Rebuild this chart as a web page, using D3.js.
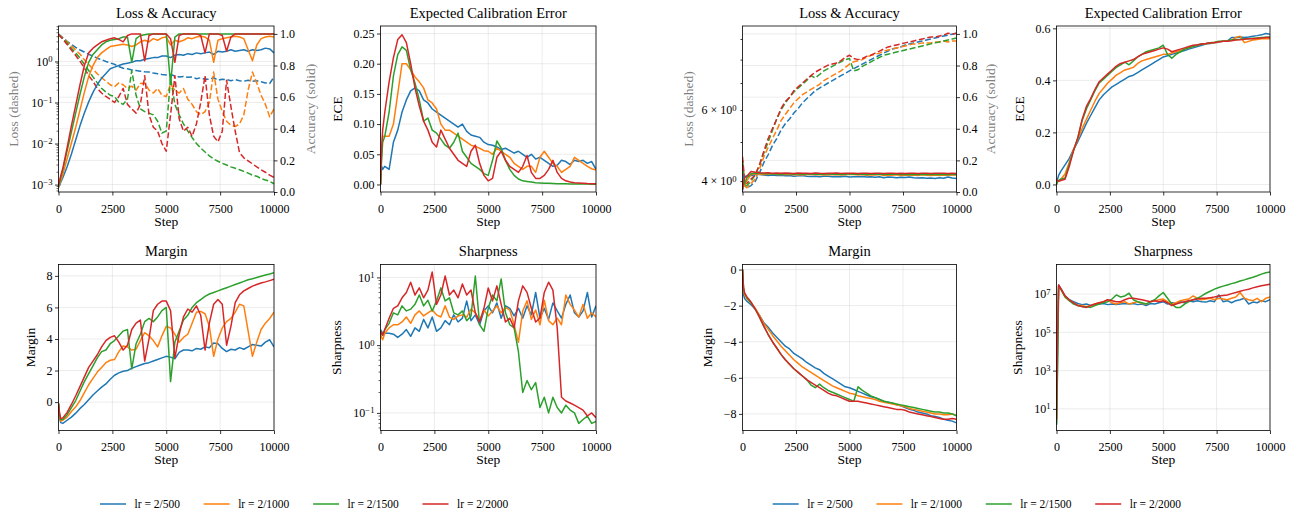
<!DOCTYPE html>
<html>
<head>
<meta charset="utf-8">
<script src="https://cdn.jsdelivr.net/npm/d3@7"></script>
<style>
  body { margin: 0; background: #fff; }
  svg text { font-family: "Liberation Serif", "Times New Roman", serif; }
</style>
</head>
<body>
<svg id="chart"></svg>
<script>
(() => {

    const WIDTH = 1294;
    const HEIGHT = 514;
    const FONT = '"Liberation Serif", "Times New Roman", serif';
    const TICK_FS = 12;
    const LABEL_FS = 13.5;
    const TITLE_FS = 14.5;
    const LEGEND_FS = 11.5;

    const COLORS = ["#1f77b4", "#ff7f0e", "#2ca02c", "#d62728"];
    const LABELS = ["lr = 2/500", "lr = 2/1000", "lr = 2/1500", "lr = 2/2000"];
    const X_TICKS = [0, 2500, 5000, 7500, 10000];

    // training steps at which every run was logged
    const STEPS = [0, 50, 100].concat(d3.range(200, 10001, 200));

    // ---- left group: loss (dashed) / accuracy (solid) ----
    const LOSS_L = [
        [4.6, 4.4, 4.2, 3.8, 3.1, 2.6, 2.2, 1.9, 1.7, 1.5, 1.35, 1.2, 1.1, 1.0, 0.92, 0.85, 0.75, 0.68,
         0.66, 0.62, 0.60, 0.58, 0.56, 0.55, 0.52, 0.50, 0.48, 0.47, 0.48, 0.44, 0.42, 0.43, 0.41,
         0.42, 0.38, 0.40, 0.37, 0.37, 0.40, 0.35, 0.37, 0.36, 0.34, 0.36, 0.34, 0.33, 0.35, 0.33,
         0.34, 0.32, 0.30, 0.29, 0.42],
        [4.6, 4.4, 4.1, 3.7, 3.0, 2.4, 1.9, 1.5, 1.1, 0.85, 0.65, 0.5, 0.4, 0.33, 0.27, 0.24, 0.3, 0.27,
         0.22, 0.25, 0.2, 0.29, 0.3, 0.2, 0.17, 0.22, 0.15, 0.14, 0.28, 0.2, 0.17, 0.22, 0.12,
         0.09, 0.06, 0.05, 0.06, 0.1, 0.55, 0.12, 0.06, 0.035, 0.028, 0.026, 0.03, 0.05, 0.2, 0.55,
         0.3, 0.15, 0.09, 0.045, 0.07],
        [4.6, 4.3, 4.0, 3.6, 2.8, 2.1, 1.6, 1.2, 0.85, 0.6, 0.42, 0.3, 0.22, 0.18, 0.15, 0.14, 0.1, 0.09,
         0.12, 0.6, 0.15, 0.07, 0.06, 0.055, 0.05, 0.035, 0.018, 0.02, 0.4, 0.09, 0.05, 0.03, 0.02,
         0.014, 0.01, 0.0078, 0.0062, 0.005, 0.0042, 0.0037, 0.0033, 0.003, 0.0027,
         0.0025, 0.0023, 0.0021, 0.0019, 0.0017, 0.0016, 0.0014, 0.0013, 0.0012, 0.00105],
        [4.6, 4.3, 4.0, 3.5, 2.6, 1.9, 1.4, 1.0, 0.7, 0.45, 0.33, 0.22, 0.17, 0.14, 0.12, 0.1, 0.14, 0.22,
         0.09, 0.07, 0.055, 0.09, 0.45, 0.05, 0.025, 0.02, 0.01, 0.0065, 0.05, 0.45, 0.04, 0.02, 0.025,
         0.015, 0.03, 0.1, 0.45, 0.05, 0.015, 0.011, 0.02, 0.35, 0.08, 0.02, 0.006, 0.0045, 0.0038, 0.0032,
         0.0027, 0.0023, 0.002, 0.0017, 0.0015]
    ];

    const ACC_L = [
        [0.03, 0.04, 0.06, 0.09, 0.16, 0.24, 0.33, 0.42, 0.50, 0.57, 0.63, 0.68, 0.72, 0.75, 0.78, 0.79, 0.80, 0.81,
         0.815, 0.82, 0.83, 0.83, 0.84, 0.845, 0.85, 0.85, 0.86, 0.86, 0.85, 0.865, 0.87, 0.865, 0.875,
         0.87, 0.88, 0.875, 0.88, 0.885, 0.87, 0.89, 0.885, 0.89, 0.90, 0.89, 0.895, 0.90, 0.89, 0.90,
         0.895, 0.90, 0.91, 0.905, 0.88],
        [0.03, 0.05, 0.07, 0.11, 0.21, 0.31, 0.41, 0.52, 0.63, 0.73, 0.80, 0.85, 0.88, 0.90, 0.92, 0.925, 0.93, 0.935,
         0.93, 0.92, 0.93, 0.95, 0.96, 0.95, 0.97, 0.96, 0.975, 0.98, 0.93, 0.96, 0.95, 0.96, 0.975,
         0.97, 0.98, 0.985, 0.98, 0.96, 0.82, 0.96, 0.97, 0.975, 0.98, 0.985, 0.98, 0.97, 0.90, 0.83,
         0.93, 0.97, 0.98, 0.985, 0.98],
        [0.04, 0.06, 0.09, 0.14, 0.26, 0.38, 0.50, 0.62, 0.73, 0.82, 0.87, 0.90, 0.93, 0.95, 0.96, 0.965, 0.97, 0.98,
         0.98, 0.82, 0.97, 0.99, 0.995, 1.0, 1.0, 1.0, 1.0, 1.0, 0.68, 0.98, 1.0, 1.0, 1.0,
         1.0, 1.0, 1.0, 1.0, 1.0, 1.0, 1.0, 1.0, 1.0, 1.0, 1.0, 1.0, 1.0, 1.0, 1.0,
         1.0, 1.0, 1.0, 1.0, 1.0],
        [0.04, 0.07, 0.10, 0.15, 0.28, 0.42, 0.55, 0.68, 0.80, 0.88, 0.91, 0.93, 0.95, 0.96, 0.97, 0.975, 0.965, 0.95,
         0.99, 1.0, 1.0, 1.0, 0.83, 0.99, 1.0, 1.0, 1.0, 1.0, 0.97, 0.82, 0.99, 1.0, 1.0,
         1.0, 1.0, 0.99, 0.88, 1.0, 1.0, 1.0, 0.99, 0.89, 0.98, 1.0, 1.0, 1.0, 1.0, 1.0,
         1.0, 1.0, 1.0, 1.0, 1.0]
    ];

    const ECE_L = [
        [0.0, 0.03, 0.025, 0.03, 0.025, 0.07, 0.09, 0.12, 0.14, 0.155, 0.16, 0.155, 0.14, 0.135, 0.125, 0.12, 0.115, 0.11,
         0.105, 0.10, 0.095, 0.10, 0.088, 0.082, 0.08, 0.078, 0.07, 0.066, 0.065, 0.062, 0.058, 0.06, 0.056,
         0.052, 0.055, 0.05, 0.045, 0.05, 0.042, 0.045, 0.04, 0.035, 0.03, 0.032, 0.04, 0.038, 0.033, 0.04,
         0.038, 0.04, 0.035, 0.038, 0.025],
        [0.0, 0.05, 0.08, 0.08, 0.08, 0.1, 0.15, 0.2, 0.2, 0.19, 0.178, 0.17, 0.16, 0.14, 0.135, 0.125, 0.1, 0.09,
         0.09, 0.085, 0.08, 0.075, 0.07, 0.065, 0.063, 0.06, 0.056, 0.055, 0.05, 0.06, 0.055, 0.05, 0.045,
         0.035, 0.03, 0.025, 0.03, 0.03, 0.02, 0.045, 0.055, 0.045, 0.035, 0.03, 0.02, 0.025, 0.03, 0.045,
         0.04, 0.035, 0.03, 0.026, 0.024],
        [0.0, 0.04, 0.07, 0.08, 0.12, 0.18, 0.215, 0.228, 0.222, 0.19, 0.168, 0.14, 0.105, 0.11, 0.09, 0.085, 0.075, 0.065,
         0.06, 0.07, 0.085, 0.055, 0.045, 0.035, 0.03, 0.025, 0.018, 0.015, 0.04, 0.072, 0.06, 0.04, 0.025,
         0.015, 0.009, 0.006, 0.005, 0.004, 0.003, 0.0025, 0.002, 0.0018, 0.0015, 0.0013, 0.0012, 0.001, 0.0009, 0.0008,
         0.0007, 0.0006, 0.0006, 0.0005, 0.0005],
        [0.0, 0.06, 0.09, 0.12, 0.17, 0.21, 0.24, 0.248, 0.235, 0.2, 0.16, 0.13, 0.105, 0.09, 0.07, 0.062, 0.09, 0.075,
         0.06, 0.05, 0.04, 0.035, 0.03, 0.055, 0.065, 0.035, 0.015, 0.006, 0.01, 0.045, 0.055, 0.04, 0.03,
         0.025, 0.02, 0.03, 0.048, 0.02, 0.01, 0.01, 0.015, 0.025, 0.04, 0.02, 0.01, 0.006, 0.004, 0.003,
         0.0025, 0.002, 0.0015, 0.0012, 0.001]
    ];

    const MARGIN_L = [
        [-0.1, -1.0, -1.3, -1.35, -1.15, -0.95, -0.7, -0.4, -0.15, 0.15, 0.45, 0.7, 0.95, 1.15, 1.45, 1.7, 1.85, 1.95,
         2.0, 2.15, 2.25, 2.35, 2.45, 2.5, 2.6, 2.7, 2.8, 2.9, 2.85, 2.75, 3.15, 3.3, 3.3,
         3.25, 3.4, 3.35, 3.5, 3.45, 3.75, 3.7, 3.4, 3.2, 3.35, 3.3, 3.45, 3.35, 3.5, 3.65,
         3.6, 3.55, 3.8, 3.95, 3.5],
        [-0.1, -0.9, -1.2, -1.15, -0.95, -0.6, -0.3, 0.1, 0.6, 1.1, 1.5, 1.9, 2.2, 2.5, 2.65, 2.7, 3.2, 3.55,
         3.5, 3.3, 3.35, 3.9, 4.4, 4.2, 3.9, 3.5, 4.2, 4.8, 4.7, 4.3, 3.8, 4.1, 4.3,
         5.0, 5.7, 5.75, 5.6, 4.8, 2.9, 4.0, 4.7, 5.1, 5.3, 5.7, 6.2, 6.1, 4.5, 2.9,
         3.8, 4.6, 5.0, 5.3, 5.7],
        [-0.1, -0.8, -1.1, -1.1, -0.8, -0.35, 0.1, 0.7, 1.3, 1.8, 2.3, 2.8, 3.2, 3.3, 3.7, 3.9, 4.2, 4.5,
         4.6, 2.1, 3.7, 4.3, 5.1, 5.3, 5.1, 5.4, 5.8, 6.0, 1.3, 3.8, 4.5, 5.2, 5.5,
         6.0, 6.3, 6.5, 6.7, 6.85, 6.95, 7.05, 7.15, 7.25, 7.35, 7.45, 7.55, 7.65, 7.75, 7.82,
         7.9, 7.98, 8.05, 8.12, 8.2],
        [-0.1, -0.7, -1.05, -1.0, -0.65, -0.15, 0.4, 1.0, 1.6, 2.2, 2.6, 3.0, 3.5, 3.9, 4.1, 4.2, 3.8, 3.3,
         3.6, 4.6, 5.0, 5.2, 2.6, 4.0, 5.8, 6.2, 6.4, 6.4, 5.8, 2.8, 4.3, 5.4, 5.9,
         5.7, 6.1, 5.5, 3.3, 5.0, 6.2, 6.5, 6.2, 3.6, 4.8, 6.3, 6.8, 7.05, 7.2, 7.35,
         7.45, 7.55, 7.62, 7.7, 7.78]
    ];

    const SHARP_L = [
        [1.7, 1.6, 1.5, 1.5, 1.5, 1.45, 1.3, 1.45, 1.7, 1.35, 1.8, 1.6, 2.4, 1.8, 2.6, 1.6, 1.8, 2.3,
         2.0, 2.8, 2.2, 2.5, 4.5, 2.3, 2.8, 2.0, 3.2, 3.8, 3.0, 4.2, 2.5, 3.8, 3.5,
         2.7, 3.5, 2.5, 3.8, 2.8, 6.0, 2.5, 3.5, 2.4, 4.2, 3.2, 2.5, 4.0, 5.5, 3.0,
         2.6, 3.2, 6.0, 2.6, 3.8],
        [1.5, 1.3, 1.2, 1.5, 1.8, 2.0, 2.0, 2.2, 2.6, 2.1, 2.8, 3.2, 2.7, 3.0, 3.3, 2.8, 2.6, 3.8,
         2.6, 2.4, 2.7, 2.8, 2.6, 3.4, 3.0, 2.3, 3.3, 2.7, 3.2, 3.8, 3.0, 3.6, 3.3,
         2.0, 1.1, 3.2, 4.5, 2.4, 3.3, 2.0, 4.6, 2.3, 2.0, 2.5, 2.0, 5.5, 4.0, 3.3,
         2.6, 4.0, 2.5, 3.0, 2.6],
        [1.6, 1.5, 1.4, 1.7, 2.1, 3.0, 2.8, 3.8, 3.2, 3.4, 4.0, 5.5, 3.8, 4.6, 3.2, 4.5, 7.0, 4.5,
         5.0, 3.0, 2.8, 3.2, 2.3, 2.7, 10.5, 2.0, 1.6, 3.5, 5.5, 4.5, 9.5, 3.0, 2.0,
         1.8, 0.8, 0.2, 0.3, 0.22, 0.28, 0.12, 0.17, 0.1, 0.17, 0.12, 0.1, 0.13, 0.11, 0.1,
         0.07, 0.08, 0.09, 0.07, 0.075],
        [1.6, 1.5, 1.4, 1.7, 2.5, 3.5, 3.8, 5.0, 6.0, 8.5, 5.5, 7.0, 5.0, 6.5, 12.0, 4.0, 5.5, 10.5,
         5.5, 6.5, 5.0, 8.0, 5.5, 6.5, 3.0, 2.2, 3.5, 7.0, 4.5, 7.5, 4.0, 2.2, 2.5,
         1.8, 4.5, 7.5, 6.0, 3.5, 2.2, 2.5, 6.0, 8.5, 6.5, 1.8, 0.17, 0.15, 0.14, 0.13,
         0.12, 0.11, 0.09, 0.1, 0.085]
    ];

    // ---- right group ----
    const LOSS_R = [
        [4.4, 4.1, 3.9, 3.85, 3.9, 4.0, 4.2, 4.45, 4.65, 4.9, 5.1, 5.35, 5.55, 5.7, 5.9, 6.05, 6.25, 6.4,
         6.55, 6.7, 6.8, 6.9, 7.0, 7.1, 7.2, 7.3, 7.4, 7.5, 7.6, 7.7, 7.8, 7.9, 8.0,
         8.1, 8.2, 8.3, 8.4, 8.5, 8.55, 8.6, 8.7, 8.75, 8.8, 8.85, 8.9, 8.95, 9.0, 9.05,
         9.1, 9.15, 9.2, 9.25, 9.3],
        [4.5, 4.2, 3.9, 3.85, 3.95, 4.05, 4.3, 4.6, 4.85, 5.1, 5.35, 5.65, 5.85, 6.05, 6.25, 6.4, 6.55, 6.65,
         6.75, 6.85, 6.95, 7.1, 7.2, 7.3, 7.4, 7.5, 7.65, 7.8, 7.9, 7.95, 8.0, 8.1, 8.2,
         8.25, 8.3, 8.4, 8.45, 8.5, 8.55, 8.6, 8.65, 8.7, 8.75, 8.75, 8.8, 8.8, 8.8, 8.85,
         8.85, 8.9, 8.85, 8.9, 8.9],
        [4.5, 4.2, 3.9, 3.9, 4.0, 4.15, 4.4, 4.7, 5.0, 5.35, 5.7, 6.0, 6.25, 6.45, 6.65, 6.8, 6.95, 7.1,
         7.3, 7.2, 7.35, 7.5, 7.6, 7.7, 7.8, 7.9, 8.0, 8.05, 7.5, 7.55, 7.7, 7.8, 7.9,
         8.0, 8.1, 8.2, 8.25, 8.3, 8.35, 8.4, 8.45, 8.5, 8.55, 8.6, 8.65, 8.7, 8.75, 8.8,
         8.85, 8.9, 8.95, 9.0, 9.05],
        [4.6, 4.3, 3.95, 3.95, 4.05, 4.15, 4.4, 4.75, 5.1, 5.4, 5.7, 6.05, 6.3, 6.45, 6.7, 6.85, 7.0, 7.15,
         7.3, 7.45, 7.55, 7.65, 7.75, 7.8, 7.85, 7.95, 8.1, 8.2, 8.05, 8.0, 8.05, 8.15, 8.2,
         8.3, 8.4, 8.5, 8.6, 8.65, 8.7, 8.75, 8.8, 8.85, 8.9, 8.95, 9.0, 9.05, 9.1, 9.1,
         9.15, 9.2, 9.3, 9.25, 9.3]
    ];

    const ACC_R = [
        [0.01, 0.09, 0.10, 0.10, 0.105, 0.11, 0.11, 0.108, 0.105, 0.107, 0.104, 0.106, 0.103, 0.105, 0.10, 0.102, 0.104, 0.10,
         0.098, 0.10, 0.097, 0.10, 0.099, 0.096, 0.098, 0.097, 0.10, 0.095, 0.097, 0.096, 0.098, 0.095, 0.097,
         0.094, 0.096, 0.09, 0.095, 0.093, 0.09, 0.094, 0.092, 0.095, 0.09, 0.088, 0.09, 0.087, 0.089, 0.086,
         0.09, 0.087, 0.095, 0.088, 0.086],
        [0.03, 0.05, 0.04, 0.07, 0.11, 0.115, 0.113, 0.11, 0.112, 0.115, 0.11, 0.113, 0.11, 0.112, 0.109, 0.111, 0.108, 0.11,
         0.112, 0.109, 0.11, 0.108, 0.111, 0.109, 0.11, 0.107, 0.109, 0.113, 0.11, 0.108, 0.11, 0.106, 0.109,
         0.107, 0.11, 0.104, 0.108, 0.106, 0.109, 0.105, 0.108, 0.106, 0.107, 0.105, 0.109, 0.106, 0.104, 0.107,
         0.105, 0.108, 0.106, 0.107, 0.108],
        [0.02, 0.08, 0.05, 0.09, 0.115, 0.12, 0.118, 0.115, 0.117, 0.114, 0.116, 0.113, 0.115, 0.117, 0.113, 0.115, 0.112, 0.114,
         0.116, 0.113, 0.114, 0.112, 0.115, 0.113, 0.114, 0.111, 0.113, 0.115, 0.112, 0.114, 0.113, 0.111, 0.113,
         0.112, 0.114, 0.111, 0.113, 0.112, 0.113, 0.111, 0.112, 0.11, 0.112, 0.111, 0.113, 0.11, 0.112, 0.111,
         0.11, 0.112, 0.111, 0.11, 0.11],
        [0.01, 0.06, 0.09, 0.10, 0.13, 0.125, 0.122, 0.12, 0.121, 0.119, 0.12, 0.118, 0.12, 0.119, 0.117, 0.12, 0.118, 0.119,
         0.117, 0.12, 0.118, 0.117, 0.119, 0.118, 0.12, 0.117, 0.118, 0.119, 0.118, 0.117, 0.119, 0.118, 0.117,
         0.119, 0.118, 0.117, 0.118, 0.119, 0.117, 0.118, 0.117, 0.119, 0.118, 0.117, 0.118, 0.119, 0.117, 0.118,
         0.119, 0.118, 0.117, 0.118, 0.117]
    ];

    const ECE_R = [
        [0.0, 0.02, 0.035, 0.05, 0.075, 0.1, 0.135, 0.165, 0.2, 0.235, 0.265, 0.295, 0.325, 0.345, 0.36, 0.375, 0.385, 0.395,
         0.405, 0.415, 0.42, 0.43, 0.44, 0.45, 0.46, 0.47, 0.48, 0.49, 0.495, 0.5, 0.505, 0.51, 0.515,
         0.52, 0.525, 0.53, 0.535, 0.54, 0.542, 0.545, 0.547, 0.55, 0.55, 0.565, 0.565, 0.567, 0.565, 0.567,
         0.57, 0.572, 0.575, 0.58, 0.577],
        [0.0, 0.01, 0.015, 0.02, 0.04, 0.085, 0.135, 0.175, 0.215, 0.25, 0.285, 0.32, 0.35, 0.37, 0.39, 0.405, 0.42, 0.43,
         0.44, 0.445, 0.45, 0.465, 0.475, 0.48, 0.485, 0.49, 0.495, 0.5, 0.5, 0.505, 0.51, 0.515, 0.52,
         0.525, 0.53, 0.535, 0.54, 0.54, 0.545, 0.545, 0.548, 0.55, 0.55, 0.555, 0.565, 0.57, 0.545, 0.55,
         0.555, 0.557, 0.56, 0.56, 0.56],
        [0.0, 0.01, 0.015, 0.02, 0.025, 0.08, 0.13, 0.18, 0.245, 0.29, 0.325, 0.36, 0.39, 0.405, 0.42, 0.435, 0.45, 0.46,
         0.47, 0.46, 0.475, 0.49, 0.5, 0.51, 0.515, 0.52, 0.525, 0.535, 0.5, 0.485, 0.5, 0.51, 0.52,
         0.525, 0.53, 0.535, 0.54, 0.542, 0.545, 0.547, 0.55, 0.55, 0.552, 0.555, 0.557, 0.558, 0.56, 0.56,
         0.562, 0.563, 0.565, 0.566, 0.567],
        [0.02, 0.015, 0.012, 0.015, 0.02, 0.07, 0.13, 0.18, 0.25, 0.3, 0.33, 0.365, 0.395, 0.41, 0.425, 0.44, 0.455, 0.465,
         0.47, 0.475, 0.48, 0.49, 0.5, 0.505, 0.51, 0.515, 0.52, 0.525, 0.52, 0.51, 0.515, 0.52, 0.525,
         0.53, 0.535, 0.537, 0.54, 0.542, 0.545, 0.546, 0.548, 0.55, 0.55, 0.552, 0.555, 0.556, 0.558, 0.56,
         0.56, 0.562, 0.563, 0.565, 0.565]
    ];

    const MARGIN_R = [
        [0.0, -1.4, -1.6, -1.75, -1.95, -2.2, -2.55, -2.95, -3.2, -3.5, -3.75, -4.0, -4.25, -4.4, -4.65, -4.8, -4.95, -5.15,
         -5.3, -5.45, -5.55, -5.75, -5.9, -6.05, -6.2, -6.35, -6.5, -6.55, -6.65, -6.75, -6.85, -6.95, -7.05,
         -7.1, -7.2, -7.3, -7.35, -7.4, -7.5, -7.55, -7.65, -7.75, -7.8, -7.9, -7.95, -8.0, -8.1, -8.15,
         -8.2, -8.3, -8.35, -8.4, -8.5],
        [0.0, -1.2, -1.4, -1.6, -1.85, -2.15, -2.55, -3.0, -3.3, -3.65, -3.95, -4.25, -4.5, -4.75, -5.0, -5.2, -5.4, -5.55,
         -5.7, -5.85, -6.0, -6.15, -6.3, -6.45, -6.55, -6.65, -6.75, -6.85, -6.9, -7.0, -7.05, -7.1, -7.15,
         -7.2, -7.3, -7.35, -7.4, -7.45, -7.5, -7.55, -7.6, -7.7, -7.75, -7.8, -7.85, -7.9, -7.95, -8.0,
         -8.0, -8.05, -8.05, -8.0, -8.1],
        [0.0, -1.1, -1.3, -1.55, -1.85, -2.2, -2.65, -3.15, -3.6, -4.0, -4.35, -4.7, -5.0, -5.25, -5.5, -5.7, -5.9, -6.1,
         -6.4, -6.55, -6.35, -6.55, -6.7, -6.8, -6.9, -7.0, -7.1, -7.2, -7.3, -6.5, -6.7, -6.85, -7.0,
         -7.1, -7.2, -7.3, -7.35, -7.4, -7.45, -7.5, -7.55, -7.6, -7.65, -7.7, -7.75, -7.8, -7.85, -7.9,
         -7.9, -7.95, -7.95, -8.0, -8.1],
        [0.0, -1.0, -1.3, -1.5, -1.8, -2.2, -2.65, -3.15, -3.6, -4.0, -4.35, -4.7, -5.0, -5.25, -5.5, -5.7, -5.9, -6.1,
         -6.25, -6.4, -6.55, -6.7, -6.85, -6.95, -7.0, -7.1, -7.2, -7.3, -7.3, -7.3, -7.35, -7.4, -7.45,
         -7.5, -7.55, -7.6, -7.65, -7.7, -7.75, -7.75, -7.8, -7.9, -7.95, -8.0, -8.05, -8.1, -8.15, -8.2,
         -8.25, -8.3, -8.3, -8.25, -8.3]
    ];

    const SHARP_R = [
        [1.5, 1e4, 3e7, 2e7, 8e6, 5e6, 4e6, 3.2e6, 2.8e6, 3e6, 2.5e6, 2.8e6, 3e6, 3.2e6, 2.8e6, 3e6, 2.8e6, 3e6,
         3.2e6, 3e6, 3.2e6, 2.8e6, 3e6, 2.5e6, 3.2e6, 3e6, 3.5e6, 4e6, 3e6, 3.5e6, 3.2e6, 4e6, 3.5e6,
         4.5e6, 4e6, 4.5e6, 4e6, 3.8e6, 4.5e6, 4e6, 9e6, 4e6, 4.5e6, 3.5e6, 4.5e6, 5e6, 6e6, 3e6,
         3.8e6, 3.5e6, 4.5e6, 4e6, 5e6],
        [2, 1e5, 2.5e7, 1.8e7, 7e6, 4.5e6, 3.5e6, 2.5e6, 2.5e6, 2.2e6, 2.5e6, 3e6, 3.5e6, 4e6, 5e6, 3.5e6, 3e6, 3.5e6,
         4e6, 3e6, 3.5e6, 4e6, 3.2e6, 3e6, 4e6, 4.5e6, 5e6, 5.5e6, 4e6, 3e6, 3.5e6, 4.5e6, 5e6,
         5.5e6, 8e6, 6e6, 5e6, 5.5e6, 6e6, 5e6, 6e6, 5.5e6, 5e6, 6e6, 7e6, 1.2e7, 6e6, 5e6,
         4.5e6, 6e6, 4e6, 6e6, 7e6],
        [1.5, 1e3, 2.5e7, 1.8e7, 7e6, 4.5e6, 3e6, 2.5e6, 2.2e6, 2.2e6, 2e6, 2.5e6, 3e6, 3.5e6, 4e6, 5.5e6, 9e6, 7e6,
         8e6, 1.1e7, 5e6, 4e6, 3.5e6, 3e6, 4e6, 5e6, 8e6, 1.2e7, 6e6, 3e6, 2e6, 2e6, 3e6,
         4e6, 5e6, 6e6, 8e6, 1.1e7, 1.4e7, 1.8e7, 2.2e7, 2.6e7, 3e7, 3.5e7, 4e7, 4.8e7, 5.5e7, 6.5e7,
         7.5e7, 9e7, 1.1e8, 1.3e8, 1.4e8],
        [3, 1e5, 3e7, 2e7, 8e6, 5e6, 3.5e6, 2.5e6, 2.2e6, 2e6, 2.5e6, 3e6, 3.5e6, 4e6, 5e6, 4.5e6, 4e6, 4e6,
         5e6, 6e6, 6e6, 5.5e6, 5e6, 4.5e6, 4e6, 4.5e6, 4e6, 4.5e6, 3.5e6, 2.5e6, 3e6, 3.5e6, 4e6,
         4.5e6, 5e6, 5.5e6, 6e6, 6e6, 6.5e6, 7e6, 8e6, 8.5e6, 9e6, 1.05e7, 1.2e7, 1.4e7, 1.6e7, 1.8e7,
         2.1e7, 2.4e7, 2.7e7, 3e7, 3.3e7]
    ];

    const ACC_TICKS = [0, 0.2, 0.4, 0.6, 0.8, 1.0];

    const svg = d3.select("#chart")
        .attr("width", WIDTH)
        .attr("height", HEIGHT)
        .attr("font-family", FONT);

    const defs = svg.append("defs");

    function supText(sel, mant, exp) {
        sel.text(null);
        sel.append("tspan").text(mant + "10");
        sel.append("tspan")
            .attr("dy", "-0.45em")
            .attr("font-size", "0.72em")
            .text(String(exp).replace("-", "\u2212"));
    }

    function logMinor(domain) {
        let out = [];
        let lo = Math.floor(Math.log10(domain[0]));
        let hi = Math.ceil(Math.log10(domain[1]));
        for (let k = lo; k <= hi; k++) {
            for (let m = 2; m <= 9; m++) {
                let v = m * Math.pow(10, k);
                if (v >= domain[0] && v <= domain[1]) out.push(v);
            }
        }
        return out;
    }

    function styleAxis(gAxis) {
        gAxis.attr("font-family", FONT).attr("font-size", TICK_FS);
        gAxis.select(".domain").remove();
        gAxis.selectAll(".tick line").attr("stroke", "#000").attr("stroke-width", 0.8);
        gAxis.selectAll(".tick text").attr("fill", "#000");
    }

    function drawPanel(p) {
        const [L, R, T, B] = p.box;
        const g = svg.append("g").attr("class", "panel");
        const x = d3.scaleLinear().domain([0, 10000]).range([L, R]);
        const y = (p.yType === "log" ? d3.scaleLog() : d3.scaleLinear()).domain(p.yDomain).range([B, T]);
        const y2 = p.twin ? d3.scaleLinear().domain(p.twin.domain).range([B, T]) : null;

        // grid
        const grid = g.append("g")
            .attr("stroke", "#b0b0b0")
            .attr("stroke-opacity", 0.3)
            .attr("stroke-width", 0.8);
        X_TICKS.forEach(v => grid.append("line")
            .attr("x1", x(v)).attr("x2", x(v)).attr("y1", T).attr("y2", B));
        if (p.yGrid !== false) {
            p.yTicks.forEach(v => grid.append("line")
                .attr("x1", L).attr("x2", R).attr("y1", y(v)).attr("y2", y(v)));
        }
        if (p.twin) {
            p.twin.ticks.forEach(v => grid.append("line")
                .attr("x1", L).attr("x2", R).attr("y1", y2(v)).attr("y2", y2(v)));
        }

        // data
        const clipId = "clip-" + p.id;
        defs.append("clipPath").attr("id", clipId)
            .append("rect").attr("x", L).attr("y", T).attr("width", R - L).attr("height", B - T);
        const plot = g.append("g").attr("clip-path", `url(#${clipId})`);

        const line = d3.line().x((d, i) => x(STEPS[i])).y(d => y(d));
        p.series.forEach((s, i) => {
            if (s.length !== STEPS.length) throw new Error(p.id + " series " + i + " has " + s.length);
            plot.append("path")
                .datum(s)
                .attr("d", line)
                .attr("fill", "none")
                .attr("stroke", COLORS[i])
                .attr("stroke-width", 1.5)
                .attr("stroke-linejoin", "round")
                .attr("stroke-dasharray", p.dashed ? "6,2.6" : null);
        });
        if (p.twin) {
            const line2 = d3.line().x((d, i) => x(STEPS[i])).y(d => y2(d));
            p.twin.series.forEach((s, i) => {
                if (s.length !== STEPS.length) throw new Error(p.id + " twin " + i + " has " + s.length);
                plot.append("path")
                    .datum(s)
                    .attr("d", line2)
                    .attr("fill", "none")
                    .attr("stroke", COLORS[i])
                    .attr("stroke-width", 1.5)
                    .attr("stroke-linejoin", "round");
            });
        }

        // frame
        g.append("rect")
            .attr("x", L).attr("y", T).attr("width", R - L).attr("height", B - T)
            .attr("fill", "none").attr("stroke", "#000").attr("stroke-width", 0.8);

        // x axis
        const gx = g.append("g")
            .attr("transform", `translate(0,${B})`)
            .call(d3.axisBottom(x).tickValues(X_TICKS).tickFormat(d3.format("d")).tickSize(3.5));
        styleAxis(gx);
        gx.selectAll(".tick text").attr("y", 17).attr("dy", "0.33em");

        // y axis (left)
        const gy = g.append("g")
            .attr("transform", `translate(${L},0)`)
            .call(d3.axisLeft(y).tickValues(p.yTicks).tickSize(p.yTickSize || 3.5).tickPadding(p.yTickSize ? 4 : 2.5)
                .tickFormat(p.yFmt === "pow" ? () => "" : p.yFmt));
        styleAxis(gy);
        if (p.yFmt === "pow") {
            gy.selectAll(".tick text").each(function(d) {
                const lbl = p.yLabelFn(d);
                if (lbl) supText(d3.select(this), lbl[0], lbl[1]);
            });
        }
        if (p.yMinor) {
            logMinor(p.yDomain).forEach(v => g.append("line")
                .attr("x1", L).attr("x2", L - 2).attr("y1", y(v)).attr("y2", y(v))
                .attr("stroke", "#000").attr("stroke-width", 0.6));
        }

        // y axis (right)
        if (p.twin) {
            const gy2 = g.append("g")
                .attr("transform", `translate(${R},0)`)
                .call(d3.axisRight(y2).tickValues(p.twin.ticks).tickFormat(d3.format(".1f")).tickSize(3.5).tickPadding(2.5));
            styleAxis(gy2);
            g.append("text")
                .attr("transform", `translate(${p.twin.labelX},${(T + B) / 2}) rotate(-90)`)
                .attr("dy", "0.35em")
                .attr("text-anchor", "middle")
                .attr("font-size", LABEL_FS)
                .attr("fill", "#808080")
                .text(p.twin.label);
        }

        // labels
        g.append("text")
            .attr("x", (L + R) / 2).attr("y", T - 8.5)
            .attr("text-anchor", "middle")
            .attr("font-size", TITLE_FS)
            .text(p.title);
        g.append("text")
            .attr("x", (L + R) / 2).attr("y", B + 33.5)
            .attr("text-anchor", "middle")
            .attr("font-size", LABEL_FS)
            .text("Step");
        g.append("text")
            .attr("transform", `translate(${p.yLabelX},${(T + B) / 2}) rotate(-90)`)
            .attr("dy", "0.35em")
            .attr("text-anchor", "middle")
            .attr("font-size", LABEL_FS)
            .attr("fill", p.twin ? "#808080" : "#000")
            .text(p.yLabel);
    }

    function drawLegend(x0, yc) {
        let cx = x0;
        LABELS.forEach((lab, i) => {
            svg.append("line")
                .attr("x1", cx).attr("x2", cx + 26)
                .attr("y1", yc).attr("y2", yc)
                .attr("stroke", COLORS[i]).attr("stroke-width", 1.5);
            const t = svg.append("text")
                .attr("x", cx + 34.5).attr("y", yc).attr("dy", "0.33em")
                .attr("font-size", LEGEND_FS)
                .text(lab);
            cx = cx + 34.5 + t.node().getComputedTextLength() + 23.7;
        });
    }

    const decade = d => ["", Math.round(Math.log10(d))];

    const TOP = [26, 192];
    const BOT = [264.5, 430.5];

    const PANELS = [
        { id: "p1", box: [58.5, 274, TOP[0], TOP[1]], title: "Loss & Accuracy", yLabel: "Loss (dashed)", yLabelX: 13.3,
          yType: "log", yDomain: [6.6e-4, 7.3], yTicks: [1e-3, 1e-2, 1e-1, 1], yFmt: "pow", yLabelFn: decade, yMinor: true,
          series: LOSS_L, dashed: true,
          twin: { domain: [0, 1.05], ticks: ACC_TICKS, label: "Accuracy (solid)", labelX: 310, series: ACC_L } },
        { id: "p2", box: [380.5, 596, TOP[0], TOP[1]], title: "Expected Calibration Error", yLabel: "ECE", yLabelX: 337.3,
          yType: "lin", yDomain: [-0.0125, 0.2625], yTicks: [0, 0.05, 0.1, 0.15, 0.2, 0.25], yFmt: d3.format(".2f"),
          series: ECE_L },
        { id: "p3", box: [742.5, 956.5, TOP[0], TOP[1]], title: "Loss & Accuracy", yLabel: "Loss (dashed)", yLabelX: 688,
          yType: "log", yDomain: [3.76, 9.69], yTicks: [4, 5, 6, 7, 8, 9], yTickSize: 2, yGrid: false, yFmt: "pow",
          yLabelFn: d => (d === 4 || d === 6) ? [d + " \u00d7 ", 0] : null,
          series: LOSS_R, dashed: true,
          twin: { domain: [0, 1.05], ticks: ACC_TICKS, label: "Accuracy (solid)", labelX: 990, series: ACC_R } },
        { id: "p4", box: [1056.5, 1270, TOP[0], TOP[1]], title: "Expected Calibration Error", yLabel: "ECE", yLabelX: 1019,
          yType: "lin", yDomain: [-0.029, 0.609], yTicks: [0, 0.2, 0.4, 0.6], yFmt: d3.format(".1f"),
          series: ECE_R },
        { id: "p5", box: [58.5, 274, BOT[0], BOT[1]], title: "Margin", yLabel: "Margin", yLabelX: 30,
          yType: "lin", yDomain: [-1.8, 8.72], yTicks: [0, 2, 4, 6, 8], yFmt: d3.format("d"),
          series: MARGIN_L },
        { id: "p6", box: [380.5, 596, BOT[0], BOT[1]], title: "Sharpness", yLabel: "Sharpness", yLabelX: 336,
          yType: "log", yDomain: [0.055, 15.5], yTicks: [0.1, 1, 10], yFmt: "pow", yLabelFn: decade, yMinor: true,
          series: SHARP_L },
        { id: "p7", box: [742.5, 956.5, BOT[0], BOT[1]], title: "Margin", yLabel: "Margin", yLabelX: 707.3,
          yType: "lin", yDomain: [-8.92, 0.28], yTicks: [0, -2, -4, -6, -8], yFmt: d => String(d).replace("-", "\u2212"),
          series: MARGIN_R },
        { id: "p8", box: [1056.5, 1270, BOT[0], BOT[1]], title: "Sharpness", yLabel: "Sharpness", yLabelX: 1017.3,
          yType: "log", yDomain: [0.74, 3.5e8], yTicks: [1e1, 1e3, 1e5, 1e7], yFmt: "pow", yLabelFn: decade,
          series: SHARP_R }
    ];

    PANELS.forEach(drawPanel);

    drawLegend(100, 504);
    drawLegend(772.7, 504);

})();
</script>
</body>
</html>
